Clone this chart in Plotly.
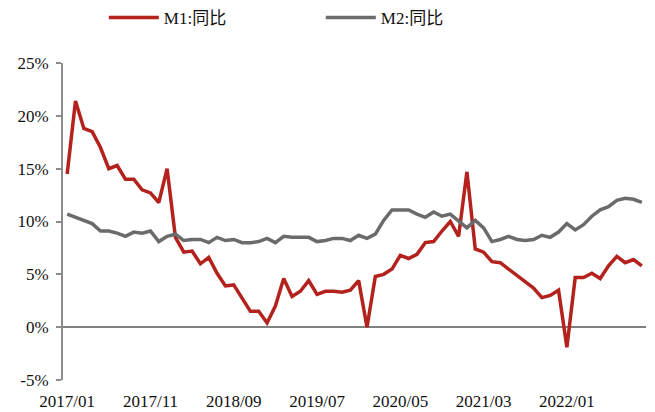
import plotly.graph_objects as go

months = [f"{y}/{m:02d}" for y in range(2017, 2023) for m in range(1, 13)][:70]

m1_yoy = [14.5, 21.4, 18.8, 18.5, 17.0, 15.0, 15.3, 14.0, 14.0, 13.0, 12.7, 11.8,
          15.0, 8.5, 7.1, 7.2, 6.0, 6.6, 5.1, 3.9, 4.0, 2.7, 1.5, 1.5,
          0.4, 2.0, 4.6, 2.9, 3.4, 4.4, 3.1, 3.4, 3.4, 3.3, 3.5, 4.4,
          0.0, 4.8, 5.0, 5.5, 6.8, 6.5, 6.9, 8.0, 8.1, 9.1, 10.0, 8.6,
          14.7, 7.4, 7.1, 6.2, 6.1, 5.5, 4.9, 4.2, 3.7, 2.8, 3.0, 3.5,
          -1.9, 4.7, 4.7, 5.1, 4.6, 5.8, 6.7, 6.1, 6.4, 5.8]

m2_yoy = [10.7, 10.4, 10.1, 9.8, 9.1, 9.1, 8.9, 8.6, 9.0, 8.9, 9.1, 8.1,
          8.6, 8.8, 8.2, 8.3, 8.3, 8.0, 8.5, 8.2, 8.3, 8.0, 8.0, 8.1,
          8.4, 8.0, 8.6, 8.5, 8.5, 8.5, 8.1, 8.2, 8.4, 8.4, 8.2, 8.7,
          8.4, 8.8, 10.1, 11.1, 11.1, 11.1, 10.7, 10.4, 10.9, 10.5, 10.7, 10.1,
          9.4, 10.1, 9.4, 8.1, 8.3, 8.6, 8.3, 8.2, 8.3, 8.7, 8.5, 9.0,
          9.8, 9.2, 9.7, 10.5, 11.1, 11.4, 12.0, 12.2, 12.1, 11.8]

x_ticks = ["2017/01", "2017/11", "2018/09", "2019/07", "2020/05", "2021/03", "2022/01"]
y_ticks = [-5, 0, 5, 10, 15, 20, 25]

FONT = "'Liberation Serif', 'Times New Roman', 'Noto Sans CJK SC', serif"

fig = go.Figure()
fig.add_trace(go.Scatter(x=months, y=m1_yoy, mode="lines", name="M1:同比",
                         line=dict(color="#B3221D", width=3.5)))
fig.add_trace(go.Scatter(x=months, y=m2_yoy, mode="lines", name="M2:同比",
                         line=dict(color="#6B6B6B", width=3.5)))

fig.update_layout(
    width=647, height=404,
    margin=dict(l=55, r=9, t=55, b=32, autoexpand=False),
    paper_bgcolor="white", plot_bgcolor="white",
    font=dict(family=FONT, size=17, color="#111111"),
    showlegend=True,
    legend=dict(orientation="h", x=0.07, xanchor="left", y=1.142, yanchor="middle",
                font=dict(family=FONT, size=17, color="#111111"),
                entrywidth=152, entrywidthmode="pixels", itemwidth=50,
                bgcolor="rgba(0,0,0,0)"),
    xaxis=dict(type="category", range=[-0.5, 69.5], tickmode="array",
               tickvals=x_ticks, ticktext=x_ticks, showgrid=False,
               showline=False, ticks="", zeroline=False,
               ticklabelstandoff=9),
    yaxis=dict(range=[-5, 25], tickvals=y_ticks,
               ticktext=[f"{v}%" for v in y_ticks], showgrid=False,
               showline=True, linecolor="#8C8C8C", linewidth=2,
               ticks="outside", ticklen=5, tickcolor="#8C8C8C", tickwidth=2,
               zeroline=True, zerolinecolor="#808080", zerolinewidth=1.5,
               ticklabelstandoff=4),
)

fig.write_html("out.html")
